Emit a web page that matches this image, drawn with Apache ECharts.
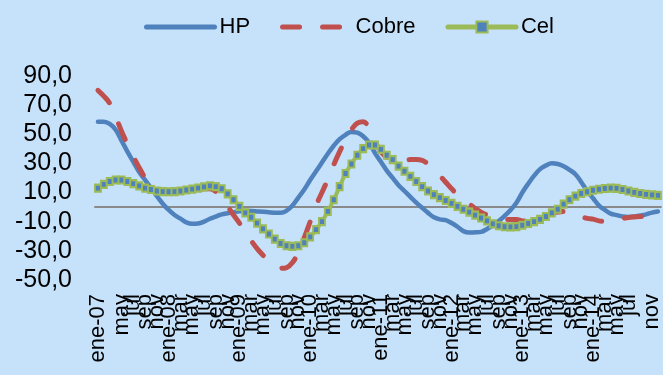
<!DOCTYPE html>
<html>
<head>
<meta charset="utf-8">
<script src="https://cdn.jsdelivr.net/npm/echarts@6/dist/echarts.min.js"></script>
<style>
  html, body { margin: 0; padding: 0; background: #C6E1FA; }
  #chart { width: 663px; height: 375px; }
</style>
</head>
<body>
<div id="chart"></div>
<script>
// Monthly labels: January carries the year, other months only the short name
const monthNames = ['ene', 'feb', 'mar', 'abr', 'may', 'jun', 'jul', 'ago', 'sep', 'oct', 'nov', 'dic'];
const years = ['07', '08', '09', '10', '11', '12', '13', '14'];
const categories = [];
years.forEach(y => monthNames.forEach((m, i) => categories.push(i === 0 ? m + '-' + y : m)));

const hp = [
  58.5, 58.5, 57, 53, 45.5, 38, 31, 24, 18.5, 13, 7.5, 2.3,
  -2, -5.5, -8, -10.5, -11.5, -11.3, -10, -8, -6.5, -5, -4.2, -3.5,
  -2.9, -2.7, -2.8, -3, -3.2, -3.5, -4, -4, -2.5, 1, 6.5, 12,
  18.5, 24.5, 30.5, 36.5, 42, 46.5, 49.5, 51.5, 51, 48.5, 44, 37,
  31, 25, 20, 15, 11, 7, 3, -0.5, -4, -7, -8.5, -9,
  -11, -13.5, -16.5, -17.5, -17.3, -17, -15, -12.5, -9.5, -6, -2, 3,
  10, 16, 21.5, 26, 28.5, 30, 29.5, 28, 25.5, 22.5, 17, 11,
  6, 1, -2, -4.5, -5.5, -6.5, -6.8, -6.5, -5.8, -5, -3.8, -3
];

const cobre = [
  80, 76, 71, 62, 52, 43, 34.5, 27, 20, 15, 12, 10.5,
  10, 10, 10.5, 11, 11.5, 12, 12.5, 12.5, 10.5, 5.5, 0.5, -5.5,
  -11, -17, -23, -28.5, -33, -37, -40, -42, -41.5, -38, -31, -21,
  -10, 1, 10, 19, 29, 38, 46, 53, 57.5, 58.5, 54, 45,
  38, 34, 32.5, 32, 32, 32.5, 32.5, 32, 29.5, 26, 21.5, 17,
  12.5, 8.5, 4.5, 2, -1, -3.5, -5.5, -7, -8, -8.5, -8.5, -8.5,
  -9.5, -9.5, -9, -8, -6, -4.5, -3.5, -3, -3.5, -5, -6.5, -7.8,
  -8.3, -9.5, -9.8, -9.3, -8.4, -7.8, -7.2, -6.8, -6.5, -6.5, -6.5, -6.5
];

const cel = [
  13, 15.5, 17.5, 18.5, 18.5, 17.5, 16, 14.5, 13, 12, 11, 10.6,
  10.5, 10.6, 11, 11.7, 12.3, 13, 13.8, 14.5, 14, 12.5, 9, 5,
  0.5, -4, -7, -11, -15, -18.5, -22, -25, -26.5, -27, -26.5, -24.5,
  -20.5, -15.5, -10, -3, 5, 14, 23, 29.5, 35.5, 40, 42.5, 42.5,
  39.5, 35.5, 32.5, 28, 24.5, 21, 17.5, 14, 11, 8.5, 6.5, 4.5,
  2.5, 0.5, -1.5, -3.5, -5.5, -7.5, -9.5, -11.5, -12.8, -13.5, -13.6, -13.4,
  -12.5, -11.3, -10, -8.5, -6.5, -4, -1.5, 2, 5, 7.5, 9.3, 10.5,
  11.5, 12.2, 12.7, 13, 12.8, 12, 11, 10, 9.3, 8.7, 8.3, 8
];

const yTicks = { min: -50, max: 90, step: 20 };

const BLUE = '#4F81BD', RED = '#C0504D', GREEN = '#9BBB59';
const FONT = '"Liberation Sans", Arial, sans-serif';

const chart = echarts.init(document.getElementById('chart'), null, { renderer: 'canvas' });
chart.setOption({
  backgroundColor: '#C6E1FA',
  animation: false,
  textStyle: { fontFamily: FONT, color: '#000' },
  legend: {
    left: 144,
    top: 16,
    padding: 0,
    itemWidth: 68,
    itemHeight: 14,
    itemGap: 30,
    lineStyle: { width: 5, cap: 'round' },
    textStyle: { fontSize: 22, color: '#000', fontFamily: FONT },
    data: [
      { name: 'HP', itemStyle: { opacity: 0 } },
      { name: 'Cobre', itemStyle: { opacity: 0 } },
      { name: 'Cel' }
    ]
  },
  grid: { left: 95, right: -6, top: 75.7, bottom: 95, containLabel: false },
  xAxis: [
    {
      type: 'category',
      data: categories,
      boundaryGap: true,
      axisLine: { show: false, onZero: false },
      axisTick: { show: false },
      axisLabel: {
        // every second month: ene, mar, may, jul, sep, nov
        interval: index => index % 2 === 0,
        rotate: 90,
        margin: 14,
        fontSize: 22,
        color: '#000',
        fontFamily: FONT,
        hideOverlap: false,
        showMinLabel: true,
        showMaxLabel: true
      },
      splitLine: { show: false }
    },
    {
      type: 'category',
      data: categories,
      position: 'bottom',
      boundaryGap: true,
      axisLine: { show: true, onZero: true, lineStyle: { color: '#8A8A8A', width: 2 } },
      axisTick: { show: false },
      axisLabel: { show: false },
      splitLine: { show: false }
    }
  ],
  yAxis: {
    type: 'value',
    min: yTicks.min,
    max: yTicks.max,
    interval: yTicks.step,
    axisLine: { show: false },
    axisTick: { show: false },
    splitLine: { show: false },
    axisLabel: {
      margin: 23,
      fontSize: 25,
      color: '#000',
      fontFamily: FONT,
      formatter: v => v.toFixed(1).replace('.', ',')
    }
  },
  series: [
    {
      name: 'HP',
      type: 'line',
      data: hp,
      smooth: 0.4,
      symbol: 'none',
      lineStyle: { color: BLUE, width: 4.5, cap: 'round' },
      itemStyle: { color: BLUE }
    },
    {
      name: 'Cobre',
      type: 'line',
      data: cobre,
      smooth: 0.4,
      symbol: 'none',
      lineStyle: { color: RED, width: 5, type: [17, 23], cap: 'round' },
      itemStyle: { color: RED }
    },
    {
      name: 'Cel',
      type: 'line',
      data: cel,
      smooth: 0.4,
      symbol: 'rect',
      symbolSize: [6, 7],
      showAllSymbol: true,
      lineStyle: { color: GREEN, width: 4, cap: 'round' },
      itemStyle: { color: BLUE, borderColor: GREEN, borderWidth: 2 }
    }
  ]
});
</script>
</body>
</html>
